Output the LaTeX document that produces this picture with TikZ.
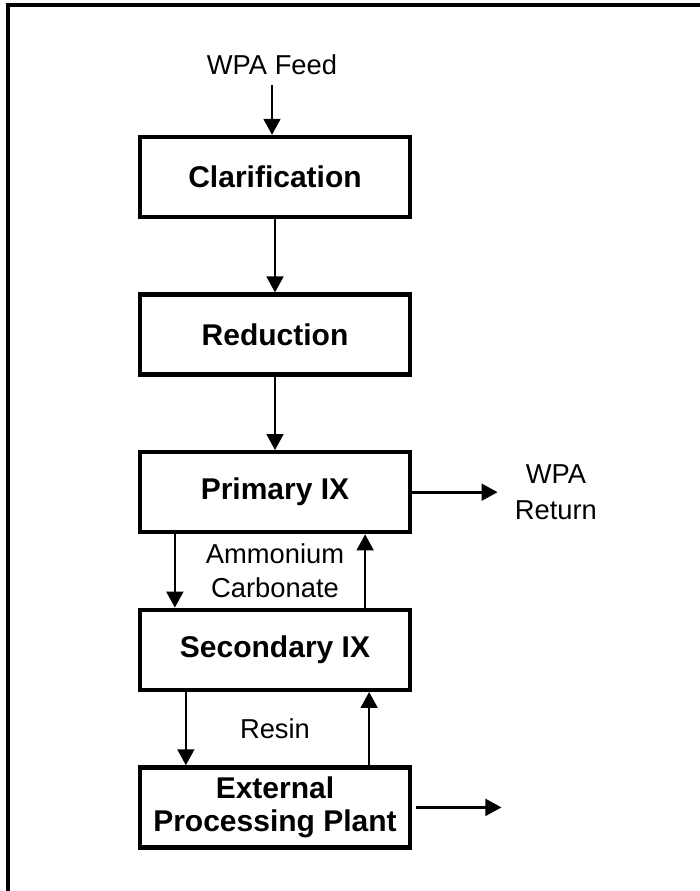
\documentclass[tikz,border=0pt]{standalone}
\usepackage{fontspec}
\setmainfont{Liberation Sans}
\usetikzlibrary{positioning, arrows.meta, calc}

\begin{document}
\begin{tikzpicture}[
  every node/.style={font=\fontsize{20.5}{25.5}\selectfont},
  >={Triangle[length=12pt, width=12.5pt]},
  box/.style={
    draw, line width=3.2pt, minimum width=202.5pt, minimum height=60pt,
    inner sep=2pt, align=center,
    font=\fontsize{22.5}{24.75}\selectfont\bfseries
  },
  arrow/.style={->, line width=2pt}
]

\useasboundingbox (0,0) rectangle (524.25pt,-668.25pt);
% frame, only the top and left edges are on the page
\draw[line width=2.3pt] (6pt,-700pt) |- (560pt,-3.75pt);

\node (feed) at (204pt,-48.75pt) {WPA Feed};

\node[box] (clar) at (206.25pt,-132.75pt) {Clarification};
\node[box, below=55pt of clar] (red) {Reduction};
\node[box, below=55pt of red] (pri) {Primary IX};
\node[box, below=55pt of pri] (sec) {Secondary IX};
\node[box, below=55pt of sec] (ext) {External\\Processing Plant};

\node[align=center, right=73.5pt of pri, font=\fontsize{20.5}{27}\selectfont] (ret) {WPA\\Return};
\coordinate[right=67pt of ext] (out);

\node[align=center] (ammo) at ($(pri.south)!0.5!(sec.north)$) {Ammonium\\Carbonate};
\node (resin) at ($(sec.south)!0.5!(ext.north)$) {Resin};

\draw[arrow, shorten <=4pt] (feed.south) -- (feed.south |- clar.north);
\draw[arrow] (clar) -- (red);
\draw[arrow] (red) -- (pri);
\draw[arrow, shorten >=9.4pt] (pri) -- (ret);

\draw[arrow] ([xshift=27.75pt]pri.south west) -- ([xshift=27.75pt]sec.north west);
\draw[arrow] ([xshift=-35.25pt]sec.north east) -- ([xshift=-35.25pt]pri.south east);
\draw[arrow] ([xshift=36pt]sec.south west) -- ([xshift=36pt]ext.north west);
\draw[arrow] ([xshift=-32.25pt]ext.north east) -- ([xshift=-32.25pt]sec.south east);

\draw[arrow, shorten <=3pt] (ext) -- (out);

\end{tikzpicture}
\end{document}
